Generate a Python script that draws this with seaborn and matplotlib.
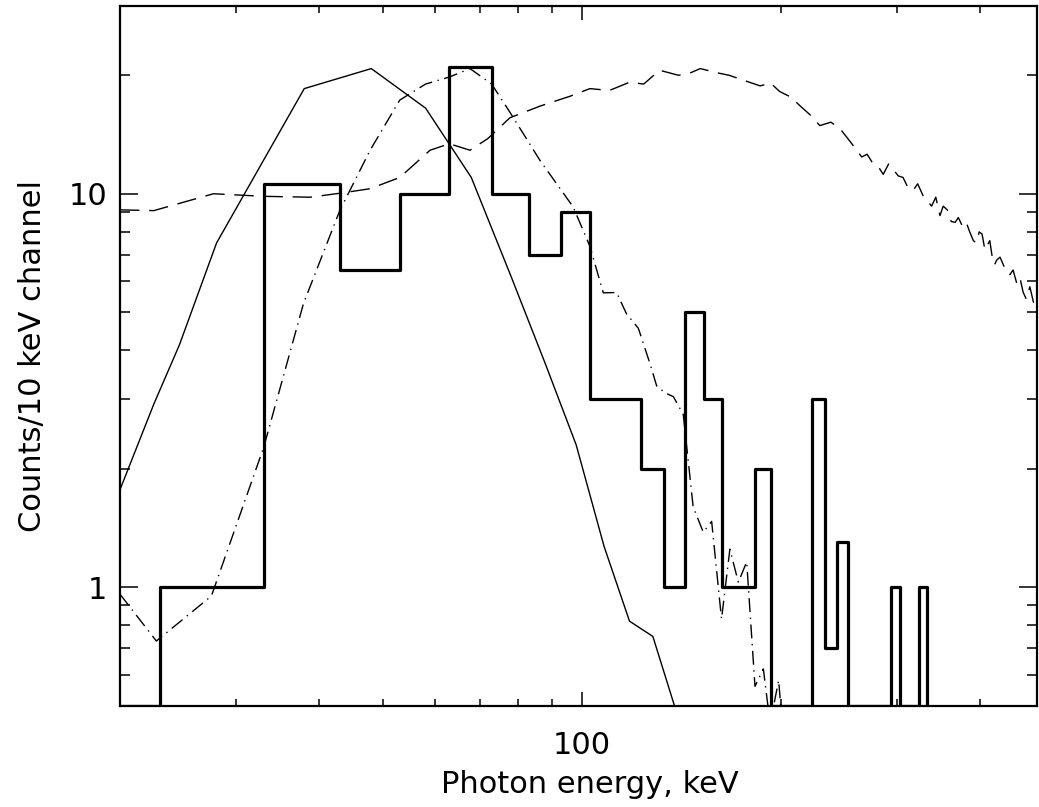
import numpy as np
import matplotlib
matplotlib.use("Agg")
import matplotlib.pyplot as plt
from matplotlib.ticker import LogLocator, NullFormatter, FuncFormatter
import seaborn as sns

# observed counts, 10 keV channels (left edge of each channel, keV)
hist_edges = [13, 23, 33, 43, 53, 63, 73, 83, 93, 103, 113, 123, 133, 143, 153,
              163, 173, 183, 193, 203, 213, 223, 233, 243, 253, 263, 273, 283,
              293, 303, 313, 323, 333]
hist_counts = [0, 1, 10.6, 6.4, 10, 21, 10, 7, 9, 3, 3, 2, 1, 5, 3,
               1, 1, 2, 0, 0, 0, 3, 0.7, 1.3, 0, 0, 0, 0,
               1, 0, 0, 1, 0]

# thin solid curve
model_e = [20, 22.5, 24.6, 28, 38, 48, 58, 68, 78, 88, 98, 108, 118, 128, 138, 148]
model_v = [1.77, 2.92, 4.13, 7.5, 18.5, 20.8, 16.5, 11, 6.2, 3.7, 2.3, 1.27,
           0.82, 0.75, 0.5, 0.3]

# dash-dot curve
dd_e = [20, 22.7, 27.5, 33, 37.9, 43, 47.8, 53, 58, 63, 67.7, 73, 78, 86.4, 97,
        102.8, 107.7, 112.8, 116.8, 121.7, 126.8, 129.7, 133.5, 137.5, 142.3,
        147.3, 152.6, 157.1, 162.6, 167.4, 172.4, 177.5, 182.7, 188.1, 192.6,
        198.4, 202]
dd_v = [0.96, 0.73, 0.95, 2.27, 5.26, 9.06, 12.9, 17.3, 19, 19.8, 20.8, 19, 16,
        12.15, 9.25, 7.35, 5.6, 5.61, 4.95, 4.55, 3.69, 3.25, 3.12, 3.05, 2.75,
        1.6, 1.38, 1.47, 0.83, 1.25, 1.03, 1.16, 0.56, 0.62, 0.45, 0.58, 0.4]

# dashed curve
ds_e = [20, 22.5, 27.7, 33, 38.8, 43.6, 47.8, 53, 58.9, 63, 67.7, 72, 77.8,
        86.4, 96, 102.8, 110, 118, 124, 131, 140, 146, 151, 160, 167, 176, 186,
        193, 199, 207, 214, 222, 229, 238, 246, 256, 265, 270, 275, 280, 285.6,
        291, 296, 301, 306, 311, 317, 322, 328, 333, 338, 343, 348, 352, 357,
        362, 367, 371, 376, 381, 386, 391, 395, 399, 403, 407, 410, 414, 417,
        421, 424, 429, 434, 439, 444, 449, 455, 460, 465, 470, 476, 482, 488]
ds_v = [9.1, 9.06, 10.0, 9.85, 9.8, 10.06, 10.3, 11.0, 12.9, 13.4, 12.9, 13.8,
        15.6, 16.7, 17.7, 18.5, 18.3, 19.2, 19.0, 20.6, 20.0, 20.3, 20.8, 20.3,
        20.0, 19.4, 18.8, 19.1, 18.2, 17.6, 16.7, 15.8, 14.9, 15.2, 14.6, 13.4,
        12.4, 12.6, 12.0, 11.8, 11.2, 11.9, 11.5, 11.1, 11.0, 10.4, 10.2, 10.6,
        9.9, 9.6, 9.3, 9.8, 8.8, 9.3, 9.1, 8.5, 8.46, 8.7, 8.3, 8.5, 8.0,
        7.6, 7.5, 8.0, 7.9, 7.2, 7.37, 7.6, 7.0, 6.6, 6.78, 6.9, 6.6, 6.3,
        6.23, 6.4, 5.9, 6.1, 5.62, 5.4, 5.8, 5.3, 5.5]

sns.set_style("ticks")
plt.rcParams["font.family"] = ["DejaVu Sans"]
plt.rcParams.update({"text.color": "black", "axes.labelcolor": "black",
                     "xtick.color": "black", "ytick.color": "black",
                     "axes.edgecolor": "black"})

fig = plt.figure(figsize=(10.39, 8.07), dpi=100)
ax = fig.add_axes([120 / 1039, 1 - 705.7 / 807, (1037 - 120) / 1039, (705.7 - 6) / 807])
ax.set_xscale("log")
ax.set_yscale("log")

y_lo, y_hi = 0.5, 30

# zero channels are drawn along the lower frame, like the original plot
hist_plot = np.clip(hist_counts, y_lo, None)
sns.lineplot(x=hist_edges, y=hist_plot, ax=ax, color="black", lw=2.3,
             drawstyle="steps-post", estimator=None, sort=False)
sns.lineplot(x=model_e, y=model_v, ax=ax, color="black", lw=1.0,
             estimator=None, sort=False)
sns.lineplot(x=dd_e, y=dd_v, ax=ax, color="black", lw=1.0,
             linestyle=(0, (10, 4, 1, 4)), estimator=None, sort=False)
sns.lineplot(x=ds_e, y=ds_v, ax=ax, color="black", lw=1.0,
             linestyle=(0, (14, 7)), estimator=None, sort=False)

ax.set_xlim(20, 488)
ax.set_ylim(y_lo, y_hi)

for axis in (ax.xaxis, ax.yaxis):
    axis.set_major_locator(LogLocator(base=10))
    axis.set_minor_locator(LogLocator(base=10, subs=np.arange(2, 10)))
    axis.set_major_formatter(FuncFormatter(lambda v, p: f"{v:g}"))
    axis.set_minor_formatter(NullFormatter())

ax.tick_params(which="both", direction="in", top=True, right=True,
               color="black", labelcolor="black", labelsize=22, width=1.1)
ax.tick_params(axis="x", which="major", length=10, pad=18)
ax.tick_params(axis="x", which="minor", length=5)
ax.tick_params(axis="y", which="major", length=13, pad=9)
ax.tick_params(axis="y", which="minor", length=7)

for s in ax.spines.values():
    s.set_linewidth(1.6)
    s.set_color("black")

ax.set_xlabel("Photon energy, keV", fontsize=22, color="black")
ax.set_ylabel("Counts/10 keV channel", fontsize=22, color="black")
ax.xaxis.set_label_coords(0.5125, -0.092)
ax.yaxis.set_label_coords(-0.08, 0.5)

fig.savefig("out.png", dpi=100)
